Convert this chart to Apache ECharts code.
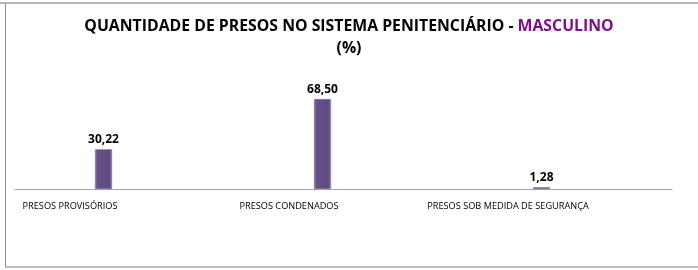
<!DOCTYPE html>
<html>
<head>
<meta charset="utf-8">
<script src="https://cdn.jsdelivr.net/npm/echarts@6/dist/echarts.min.js"></script>
<style>
  html, body { margin: 0; padding: 0; background: #fff; }
  #main { width: 698px; height: 270px; }
</style>
</head>
<body>
<div id="main"></div>
<script>
var categorias = ['PRESOS PROVISÓRIOS', 'PRESOS CONDENADOS', 'PRESOS SOB MEDIDA DE SEGURANÇA'];
var percentuais = [30.22, 68.50, 1.28];

var myChart = echarts.init(document.getElementById('main'));

function fmt(v) {
  return v.toFixed(2).replace('.', ',');
}

var option = {
  backgroundColor: '#fff',
  animation: false,
  title: {
    text: '{a|QUANTIDADE DE PRESOS NO SISTEMA PENITENCIÁRIO - }{b|MASCULINO}\n{a|(%)}',
    left: 'center',
    top: 10,
    textStyle: {
      rich: {
        a: { fontFamily: 'Open Sans', fontWeight: 'bold', fontSize: 15.8, color: '#000', lineHeight: 22 },
        b: { fontFamily: 'Open Sans', fontWeight: 'bold', fontSize: 15.8, color: '#7f0f8a', lineHeight: 22 }
      }
    }
  },
  // moldura da figura original
  graphic: [
    { type: 'rect', shape: { x: 0, y: 2, width: 698, height: 2 }, style: { fill: '#b4b4b4' } },
    { type: 'rect', shape: { x: 5, y: 4, width: 1, height: 264 }, style: { fill: '#8c8c8c' } },
    { type: 'rect', shape: { x: 5, y: 266, width: 693, height: 2 }, style: { fill: '#bdbdbd' } }
  ],
  grid: [
    { left: -6, width: 657, top: 84, height: 105, outerBoundsMode: 'none' },
    { left: 15, width: 657, top: 84, height: 105, outerBoundsMode: 'none' }
  ],
  xAxis: [{
    gridIndex: 0,
    type: 'category',
    data: categorias,
    axisLine: { show: false },
    axisTick: { show: false },
    axisLabel: {
      margin: 13,
      fontFamily: 'Open Sans',
      fontSize: 9.2,
      color: '#000',
      padding: [0, 67, 0, 0]
    }
  }, {
    gridIndex: 1,
    type: 'category',
    data: categorias,
    axisLine: { lineStyle: { color: '#a6a6a6', width: 1 } },
    axisTick: { show: false },
    axisLabel: { show: false }
  }],
  yAxis: [
    { gridIndex: 0, type: 'value', min: 0, max: 80, show: false },
    { gridIndex: 1, type: 'value', min: 0, max: 80, show: false }
  ],
  series: [{
    type: 'bar',
    xAxisIndex: 0,
    yAxisIndex: 0,
    data: percentuais,
    barWidth: 17,
    itemStyle: {
      color: new echarts.graphic.LinearGradient(0, 0, 1, 0, [
        { offset: 0, color: '#8a78a8' },
        { offset: 0.15, color: '#65508a' },
        { offset: 0.85, color: '#5f4a80' },
        { offset: 1, color: '#8a78a8' }
      ]),
      borderColor: '#7d6a9b',
      borderWidth: 0.5
    },
    label: {
      show: true,
      position: 'top',
      distance: 4,
      fontFamily: 'Open Sans',
      fontWeight: 'bold',
      fontSize: 12,
      color: '#000',
      formatter: function (p) { return fmt(p.value); }
    }
  }]
};

myChart.setOption(option);
</script>
</body>
</html>
